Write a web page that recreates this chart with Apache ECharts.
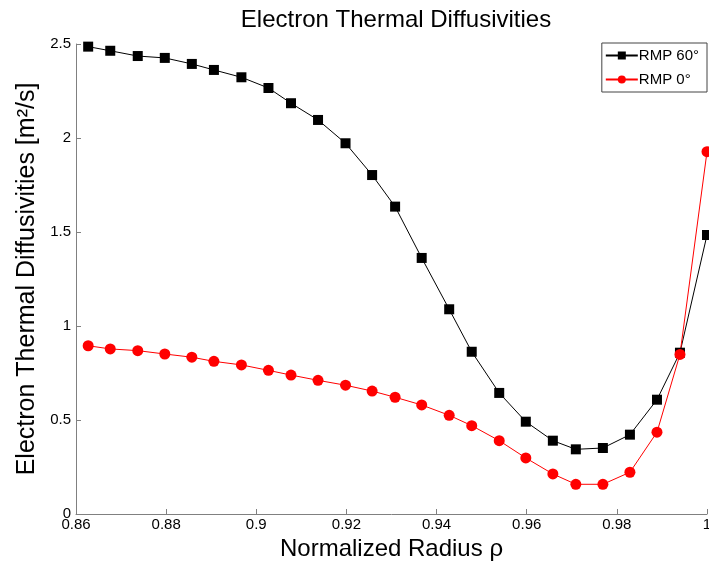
<!DOCTYPE html>
<html>
<head>
<meta charset="utf-8">
<script src="https://cdn.jsdelivr.net/npm/echarts@6/dist/echarts.min.js"></script>
<style>
html,body{margin:0;padding:0;background:#fff;}
#chart{width:709px;height:565px;}
</style>
</head>
<body>
<div id="chart"></div>
<script>
var radius = [0.8627, 0.8676, 0.8737, 0.8797, 0.8857, 0.8906, 0.8967, 0.9027, 0.9077, 0.9137, 0.9198, 0.9257, 0.9308, 0.9367, 0.9428, 0.9478, 0.9539, 0.9598, 0.9658, 0.9709, 0.9769, 0.9829, 0.9889, 0.9940, 1.0];
var rmp60 = [2.486, 2.464, 2.436, 2.426, 2.394, 2.362, 2.323, 2.266, 2.185, 2.096, 1.972, 1.803, 1.635, 1.362, 1.089, 0.863, 0.644, 0.491, 0.390, 0.344, 0.351, 0.422, 0.608, 0.858, 1.484];
var rmp0 = [0.895, 0.878, 0.869, 0.851, 0.834, 0.812, 0.793, 0.764, 0.739, 0.711, 0.685, 0.654, 0.621, 0.580, 0.525, 0.470, 0.390, 0.298, 0.213, 0.158, 0.158, 0.222, 0.435, 0.849, 1.927];
var seriesNames = ['RMP 60°', 'RMP 0°'];

function pairs(xs, ys){ return xs.map(function(x,i){ return [x, ys[i]]; }); }

var FONT = '"Liberation Sans", Arial, sans-serif';
var chart = echarts.init(document.getElementById('chart'), null, {renderer:'canvas'});
chart.setOption({
  animation:false,
  backgroundColor:'#ffffff',
  textStyle:{fontFamily:FONT},
  title:{
    text:'Electron Thermal Diffusivities',
    left:391, top:3, textAlign:'center',
    textStyle:{fontFamily:FONT, fontSize:24, fontWeight:'normal', color:'#000'}
  },
  legend:{
    orient:'vertical', right:2, top:43,
    data:seriesNames,
    backgroundColor:'#fff',
    borderColor:'#444', borderWidth:1, borderRadius:0,
    padding:[5,8,5,3],
    itemWidth:32, itemHeight:10, itemGap:9,
    textStyle:{fontFamily:FONT, fontSize:15, color:'#000', padding:[0,0,0,-4]}
  },
  grid:{left:76, right:2, top:44, bottom:51, containLabel:false, outerBoundsMode:'none'},
  xAxis:{
    type:'value', min:0.86, max:1.0, interval:0.02,
    name:'Normalized Radius ρ', nameLocation:'middle', nameGap:22,
    nameTextStyle:{fontFamily:FONT, fontSize:24, color:'#000'},
    axisLine:{onZero:false, lineStyle:{color:'#808080', width:1}},
    axisTick:{inside:true, length:5, lineStyle:{color:'#808080'}},
    axisLabel:{fontFamily:FONT, fontSize:15, color:'#000', margin:3,
      formatter:function(v){ return String(+v.toFixed(2)); }},
    splitLine:{show:false}
  },
  yAxis:{
    type:'value', min:0, max:2.5, interval:0.5,
    name:'Electron Thermal Diffusivities [m²/s]', nameLocation:'middle', nameGap:31,
    nameTextStyle:{fontFamily:FONT, fontSize:25, color:'#000'},
    axisLine:{show:true, lineStyle:{color:'#808080', width:1}},
    axisTick:{show:true, inside:true, length:5, lineStyle:{color:'#808080'}},
    axisLabel:{fontFamily:FONT, fontSize:15, color:'#000', margin:5,
      formatter:function(v){ return String(+v.toFixed(1)); }},
    splitLine:{show:false}
  },
  series:[
    {name:seriesNames[0], type:'line', data:pairs(radius, rmp60), clip:false,
     symbol:'rect', symbolSize:10,
     itemStyle:{color:'#000'}, lineStyle:{color:'#000', width:1}},
    {name:seriesNames[1], type:'line', data:pairs(radius, rmp0), clip:false,
     symbol:'circle', symbolSize:11,
     itemStyle:{color:'#ff0000'}, lineStyle:{color:'#ff0000', width:1}}
  ]
});
</script>
</body>
</html>
